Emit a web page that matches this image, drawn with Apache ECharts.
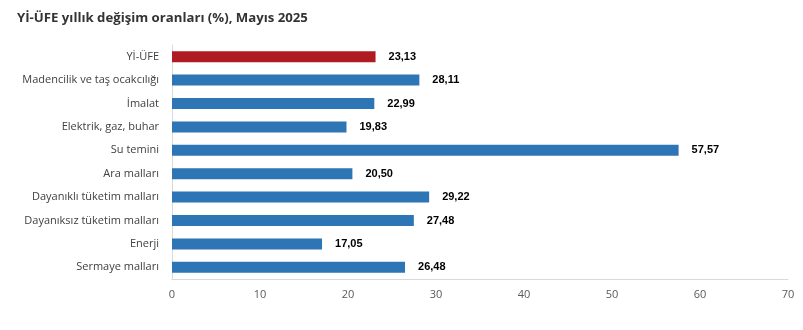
<!DOCTYPE html>
<html>
<head>
<meta charset="utf-8">
<script src="https://cdn.jsdelivr.net/npm/echarts@6/dist/echarts.min.js"></script>
<style>
  html, body { margin: 0; padding: 0; background: #ffffff; }
  #chart { width: 803px; height: 330px; }
</style>
</head>
<body>
<div id="chart"></div>
<script>
// Yİ-ÜFE annual change by sector, May 2025
const categories = [
  'Yİ-ÜFE',
  'Madencilik ve taş ocakcılığı',
  'İmalat',
  'Elektrik, gaz, buhar',
  'Su temini',
  'Ara malları',
  'Dayanıklı tüketim malları',
  'Dayanıksız tüketim malları',
  'Enerji',
  'Sermaye malları'
];
const values = [23.13, 28.11, 22.99, 19.83, 57.57, 20.50, 29.22, 27.48, 17.05, 26.48];
const xTicks = [0, 10, 20, 30, 40, 50, 60, 70];

const headlineColor = '#AE1C22';
const sectorColor = '#2E75B6';

const chart = echarts.init(document.getElementById('chart'), null, { renderer: 'canvas' });

chart.setOption({
  animation: false,
  backgroundColor: '#ffffff',
  title: {
    text: 'Yİ-ÜFE yıllık değişim oranları (%), Mayıs 2025',
    left: 12,
    top: 7,
    textStyle: {
      fontFamily: 'Open Sans',
      fontWeight: 'bold',
      fontSize: 13.2,
      color: '#333333'
    }
  },
  grid: { left: 172, right: 15, top: 45, bottom: 51, containLabel: false },
  xAxis: {
    type: 'value',
    min: xTicks[0],
    max: xTicks[xTicks.length - 1],
    interval: 10,
    axisLine: { show: true, lineStyle: { color: '#d9d9d9', width: 1 } },
    axisTick: { show: false },
    splitLine: { show: false },
    axisLabel: {
      margin: 10,
      fontFamily: 'Open Sans',
      fontSize: 11,
      color: '#595959'
    }
  },
  yAxis: {
    type: 'category',
    inverse: true,
    data: categories,
    axisLine: { show: true, lineStyle: { color: '#d9d9d9', width: 1 } },
    axisTick: { show: false },
    axisLabel: {
      margin: 13,
      fontFamily: 'Open Sans',
      fontSize: 11,
      color: '#404040'
    }
  },
  series: [{
    type: 'bar',
    data: values.map((v, i) => ({
      value: v,
      itemStyle: { color: i === 0 ? headlineColor : sectorColor }
    })),
    barWidth: 11,
    label: {
      show: true,
      position: 'right',
      distance: 13,
      fontFamily: 'Liberation Sans',
      fontWeight: 'bold',
      fontSize: 11,
      color: '#000000',
      formatter: p => p.value.toFixed(2).replace('.', ',')
    }
  }]
});
</script>
</body>
</html>
